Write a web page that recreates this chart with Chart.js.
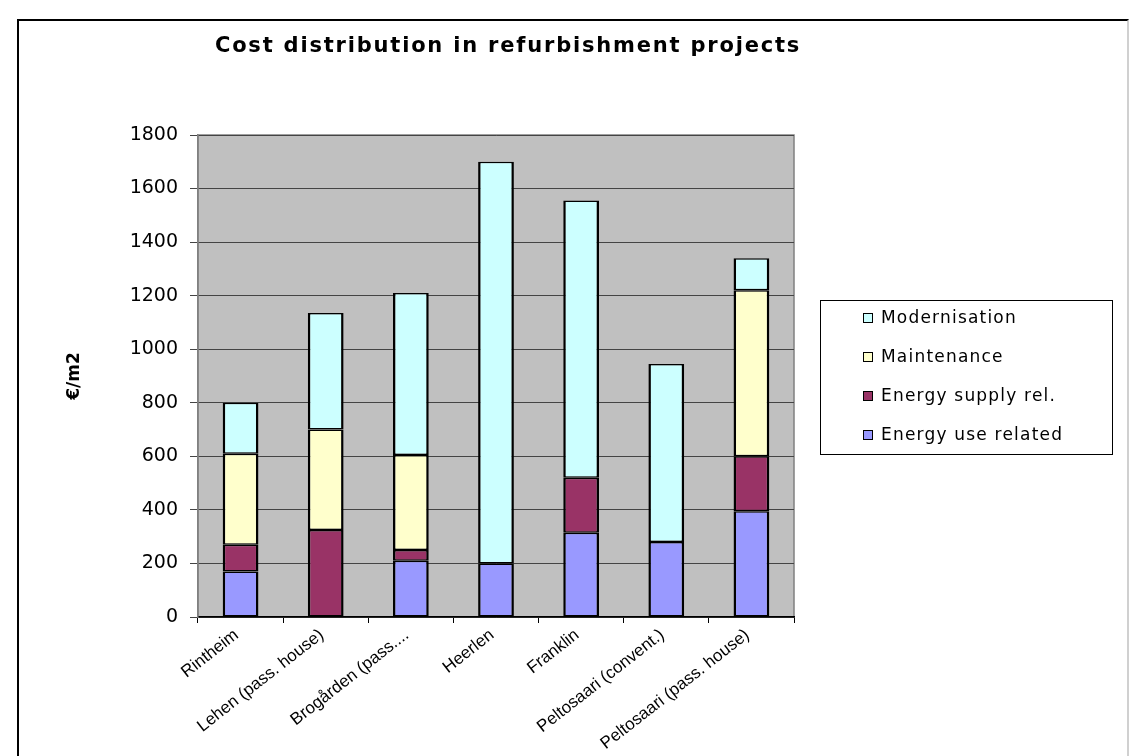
<!DOCTYPE html>
<html>
<head>
<meta charset="utf-8">
<script src="https://cdn.jsdelivr.net/npm/chart.js@4/dist/chart.umd.min.js"></script>
<style>
  html, body { margin: 0; padding: 0; background: #fff; overflow: hidden; }
  #frame {
    position: absolute; left: 17px; top: 19px; width: 1108px; height: 800px;
    border-top: 2px solid #000; border-left: 2px solid #000; border-right: 2px solid #d0d0d0;
  }
  #chart { position: absolute; left: 0; top: 0; }
</style>
</head>
<body>
<div id="frame"></div>
<canvas id="chart" width="1129" height="756"></canvas>
<script>
const TITLE = "Cost distribution in refurbishment projects";

const CATEGORIES = [
  "Rintheim", "Lehen (pass. house)", "Brogården (pass....", "Heerlen",
  "Franklin", "Peltosaari (convent.)", "Peltosaari (pass. house)"
];

// €/m2, null where the part is missing
const ENERGY_USE = [170, null, 210, 200, 315, 280, 395];
const ENERGY_SUPPLY = [100, 325, 40, null, 205, null, 205];
const MAINTENANCE = [340, 375, 355, null, null, null, 620];
const MODERNISATION = [190, 435, 605, 1500, 1035, 665, 120];

const Y_MIN = 0, Y_MAX = 1800, Y_STEP = 200;

const SANS = "'DejaVu Sans', sans-serif";
const ARIAL = "'Liberation Sans', Arial, sans-serif";

function series(label, data, color) {
  return {
    label,
    data,
    backgroundColor: color,
    borderColor: "#000",
    // stacked pieces touch, so top/bottom halves add up to one divider
    borderWidth: { left: 2.5, right: 2.5, top: 1.5, bottom: 1.5 },
    borderSkipped: false,
    barPercentage: 0.42,
    categoryPercentage: 1
  };
}

// grey plot area with its frame
const plotBack = {
  id: "plotBack",
  beforeDraw(chart) {
    const { ctx, chartArea: a } = chart;
    ctx.save();
    ctx.fillStyle = "#c0c0c0";
    ctx.fillRect(a.left, a.top, a.right - a.left, a.bottom - a.top);
    ctx.strokeStyle = "#808080";
    ctx.lineWidth = 1.5;
    ctx.strokeRect(a.left, a.top, a.right - a.left, a.bottom - a.top);
    ctx.restore();
  }
};

// title drawn a little spaced out, like the original
const spacedTitle = {
  id: "spacedTitle",
  afterDraw(chart) {
    const { ctx, chartArea: a } = chart;
    ctx.save();
    ctx.font = "bold 21px " + SANS;
    ctx.letterSpacing = "1.8px";
    ctx.fillStyle = "#000";
    ctx.textAlign = "center";
    ctx.textBaseline = "middle";
    ctx.fillText(TITLE, (a.left + a.right) / 2 + 12, 47);
    ctx.restore();
  }
};

// legend in a bordered box, right of the plot, top series first
const boxLegend = {
  id: "boxLegend",
  afterDraw(chart) {
    const { ctx, chartArea: a } = chart;
    const sets = chart.data.datasets.slice().reverse();
    const left = a.right + 26, width = 292;
    const rowH = 39;
    const height = 154;
    const top = 300;
    ctx.save();
    ctx.fillStyle = "#fff";
    ctx.fillRect(left, top, width, height);
    ctx.strokeStyle = "#000";
    ctx.lineWidth = 1;
    ctx.strokeRect(left + 0.5, top + 0.5, width, height);
    ctx.font = "17px " + SANS;
    ctx.letterSpacing = "1.2px";
    ctx.textBaseline = "middle";
    sets.forEach((ds, i) => {
      const cy = top + 18 + i * rowH;
      ctx.fillStyle = ds.backgroundColor;
      ctx.fillRect(left + 43.5, cy - 4.5, 9, 9);
      ctx.strokeStyle = "#000";
      ctx.lineWidth = 1;
      ctx.strokeRect(left + 43.5, cy - 4.5, 9, 9);
      ctx.fillStyle = "#000";
      ctx.fillText(ds.label, left + 61, cy + 1);
    });
    ctx.restore();
  }
};

new Chart(document.getElementById("chart"), {
  type: "bar",
  data: {
    labels: CATEGORIES,
    datasets: [
      series("Energy use related", ENERGY_USE, "#9999ff"),
      series("Energy supply rel.", ENERGY_SUPPLY, "#993366"),
      series("Maintenance", MAINTENANCE, "#ffffcc"),
      series("Modernisation", MODERNISATION, "#ccffff")
    ]
  },
  options: {
    responsive: false,
    animation: false,
    layout: { padding: { left: 60, right: 335, top: 135, bottom: 0 } },
    plugins: {
      legend: { display: false },
      tooltip: { enabled: false },
      title: { display: false }
    },
    scales: {
      x: {
        stacked: true,
        grid: {
          offset: true,
          drawOnChartArea: false,
          drawTicks: true,
          tickLength: 6,
          color: "#000"
        },
        border: { color: "#000", width: 1.5 },
        ticks: {
          color: "#000",
          font: { family: ARIAL, size: 17 },
          minRotation: 38,
          maxRotation: 38,
          autoSkip: false,
          padding: 2,
          labelOffset: -4
        },
        afterFit(scale) { scale.height = 139; }
      },
      y: {
        stacked: true,
        min: Y_MIN,
        max: Y_MAX,
        grid: { color: "#444", lineWidth: 1, tickLength: 8 },
        border: { color: "#808080", width: 1.5 },
        ticks: {
          stepSize: Y_STEP,
          color: "#000",
          padding: 12,
          font: { family: SANS, size: 19 },
          callback: v => String(v)
        },
        title: {
          display: true,
          text: "€/m2",
          color: "#000",
          font: { family: SANS, size: 17, weight: "bold" },
          padding: { top: 4, bottom: 0 }
        },
        afterFit(scale) { scale.width = 138; }
      }
    }
  },
  plugins: [plotBack, spacedTitle, boxLegend]
});
</script>
</body>
</html>
